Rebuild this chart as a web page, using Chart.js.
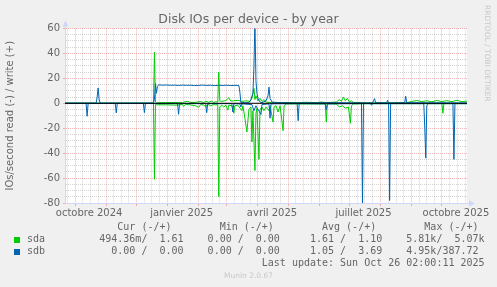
<!DOCTYPE html>
<html>
<head>
<meta charset="utf-8">
<script src="https://cdn.jsdelivr.net/npm/chart.js@4/dist/chart.umd.min.js"></script>
<style>
  body { margin: 0; background: #f0f0f0; }
  #wrap { position: relative; width: 497px; height: 287px; overflow: hidden; }
  #c { position: absolute; left: 0; top: 0; }
  .leg { position: absolute; margin: 0; font: 10px/12px "DejaVu Sans Mono", monospace; color: #666; white-space: pre; }
  .sq { position: absolute; width: 6px; height: 6px; }
  #rrd { position: absolute; left: 483px; top: 5px; font: 7.5px "DejaVu Sans", sans-serif; color: #c8c8c8; writing-mode: vertical-rl; white-space: nowrap; }
  #ver { position: absolute; left: 0; width: 497px; top: 271px; text-align: center; font: 7.5px "DejaVu Sans", sans-serif; color: #c8c8c8; }
</style>
</head>
<body>
<div id="wrap">
  <canvas id="c" width="497" height="287"></canvas>
  <div class="sq" style="left:14px;top:237px;background:#00cc00"></div>
  <div class="sq" style="left:14px;top:249px;background:#0066b3"></div>
  <pre class="leg" id="legend" style="left:27px;top:221px"></pre>
  <div id="rrd">RRDTOOL / TOBI OETIKER</div>
  <div id="ver">Munin 2.0.67</div>
</div>
<script>
// time range: 400 days ending at last update
var startDay = Date.UTC(2024, 8, 21);
var spanDays = 400;

// [day since start, IOs/s]  -- reads are plotted below zero
var sdaWrite = [[0,0.1],[88,0.1],[89,41],[90,1],[91,0.4],[100,0.5],[110,0.6],[117,0.4],[118,1],[122,1.5],[125,0.6],[130,0.8],[135,1.5],[138,0.5],[140,1.6],[143,0.8],[146,1.8],[148,0.6],[150,1.2],[152,1],[153,25],[154,2],[156,1.5],[160,2.2],[163,4.5],[165,1.8],[168,2],[172,2.4],[176,1.5],[180,2],[184,1.5],[186,4],[188,12],[189,3],[190,6],[192,2],[194,4],[196,1.5],[198,3],[200,1],[205,0.5],[210,0.8],[215,0.5],[220,0.7],[230,0.5],[240,0.8],[250,0.5],[255,1],[260,0.5],[270,1],[273,3],[275,1.5],[277,5],[279,2],[281,4],[283,1],[285,2],[287,0.5],[300,0.3],[340,0.4],[345,1.5],[350,2.2],[355,1.4],[360,2],[365,1.2],[370,2.2],[375,1.4],[380,2.1],[385,1.3],[390,2.4],[395,1.2],[400,1.8]];
var sdaRead = [[0,0.1],[88,0.1],[89,61],[90,1],[91,1.2],[100,1.2],[110,1.5],[117,1],[118,2.5],[120,1],[125,1.3],[130,2],[133,3.2],[135,1],[138,1.5],[140,2.8],[142,0.8],[145,2],[148,1],[150,1.4],[152,1],[153,75],[154,3],[156,1.5],[158,3],[160,1.5],[162,5.5],[163,1.5],[166,2],[168,8],[169,2],[172,1.5],[176,6],[177,2],[179,12],[181,23],[183,5],[185,3],[186,31],[187,6],[189,54],[190,8],[191,4],[193,45],[194,5],[196,3],[198,6],[200,3],[203,6],[204,2],[207,15],[208,3],[210,2],[212,7],[214,2],[217,22],[218,2],[220,0.5],[259,0.5],[260,15],[261,0.5],[270,0.5],[273,3],[276,2],[279,4],[282,3],[284,16],[285,2],[287,0.5],[300,0.3],[375,0.3],[376,8],[377,0.3],[400,0.3]];
var sdbWrite = [[0,0.2],[31,0.2],[32,5],[33,12.3],[34,3],[35,0.2],[88,0.2],[89,3],[90,15.7],[91,8],[92,13.5],[93,14.8],[97,14.5],[101,14.7],[105,14.4],[109,14.6],[113,14.3],[117,14.6],[121,14.4],[125,14.5],[129,14.2],[133,14.4],[137,14.6],[141,14.3],[145,14.5],[149,14.2],[153,14.4],[157,14.3],[161,14.5],[165,14.2],[169,14.4],[173,14.3],[174,9],[175,0.5],[183,0.5],[185,3],[187,8],[188,30],[189,66],[190,18],[191,8],[192,4],[194,1],[196,0.5],[200,2],[202,6],[203,13],[204,4],[206,1],[210,0.5],[230,0.3],[260,0.5],[306,0.3],[307,2],[308,3.7],[309,0.5],[320,0.3],[321,2.4],[322,0.3],[338,0.5],[339,5.6],[340,0.5],[400,0.3]];
var sdbRead = [[0,0.2],[21,0.2],[22,10.4],[23,0.2],[50,0.2],[51,7.7],[52,0.2],[78,0.2],[79,7.5],[80,0.2],[112,0.3],[113,8.8],[114,0.3],[140,0.3],[141,7.5],[142,0.3],[166,0.3],[167,7],[168,0.3],[174,0.5],[175,3],[176,0.5],[186,1],[188,6],[190,2],[195,9],[196,1],[203,0.5],[204,12],[205,0.5],[231,0.3],[232,14],[233,0.3],[259,0.5],[260,5],[261,0.5],[295,0.3],[296,82],[297,0.3],[304,0.3],[305,1.6],[306,0.3],[322,0.3],[323,78],[324,0.3],[357,0.3],[358,20],[359,44],[360,2],[361,0.3],[386,0.3],[387,45],[388,0.3],[400,0.3]];

// axis labels (year, month index, text)
var monthLabels = [[2024, 9, 'octobre 2024'], [2025, 0, 'janvier 2025'], [2025, 3, 'avril 2025'], [2025, 6, 'juillet 2025'], [2025, 9, 'octobre 2025']];
var yMin = -80, yMax = 60;

var legendLines = [
  '               Cur (-/+)        Min (-/+)        Avg (-/+)        Max (-/+)',
  'sda         494.36m/  1.61    0.00 /  0.00     1.61 /  1.10    5.81k/  5.07k',
  'sdb           0.00 /  0.00    0.00 /  0.00     1.05 /  3.69    4.95k/387.72',
  '                                       Last update: Sun Oct 26 02:00:11 2025'
];
document.getElementById('legend').textContent = legendLines.join('\n');

function dayOf(y, m, d) { return (Date.UTC(y, m, d) - startDay) / 864e5; }

// x ticks: month starts (red), quarter-month minor lines (grey), mid-month labels
var xTicks = [];
for (var y = 2024, m = 8; y < 2026; ) {
  var s = dayOf(y, m, 1);
  var ny = m === 11 ? y + 1 : y, nm = (m + 1) % 12;
  var e = dayOf(ny, nm, 1);
  if (s >= 0 && s <= spanDays) xTicks.push({value: s, kind: 'major'});
  for (var k = 1; k < 4; k++) {
    var v = s + (e - s) * k / 4;
    if (v > 0 && v < spanDays) xTicks.push({value: v, kind: 'minor'});
  }
  y = ny; m = nm;
  if (s > spanDays) break;
}
monthLabels.forEach(function (l) {
  xTicks.push({value: dayOf(l[0], l[1], 15), kind: 'label', label: l[2]});
});
xTicks.sort(function (a, b) { return a.value - b.value; });

function pts(arr, sign) { return arr.map(function (p) { return {x: p[0], y: sign * p[1]}; }); }

var MAJOR = 'rgba(224,80,80,0.42)', MINOR = 'rgba(143,143,143,0.38)', NONE = 'rgba(0,0,0,0)';
var AXIS = '#cfd6f8';

var munin = {
  id: 'munin',
  beforeDraw: function (chart) {
    var a = chart.chartArea, ctx = chart.ctx;
    ctx.save();
    ctx.fillStyle = '#ffffff';
    ctx.fillRect(a.left, a.top, a.right - a.left, a.bottom - a.top);
    ctx.restore();
  },
  afterDraw: function (chart) {
    var a = chart.chartArea, ctx = chart.ctx;
    ctx.save();
    ctx.strokeStyle = AXIS; ctx.fillStyle = AXIS; ctx.lineWidth = 1;
    ctx.beginPath();
    ctx.moveTo(a.left + 0.5, a.top); ctx.lineTo(a.left + 0.5, a.top - 3);
    ctx.moveTo(a.right, a.bottom + 0.5); ctx.lineTo(a.right + 3, a.bottom + 0.5);
    ctx.stroke();
    ctx.beginPath();
    ctx.moveTo(a.left - 2.5, a.top - 2); ctx.lineTo(a.left + 3.5, a.top - 2); ctx.lineTo(a.left + 0.5, a.top - 8);
    ctx.closePath(); ctx.fill();
    ctx.beginPath();
    ctx.moveTo(a.right + 2, a.bottom - 2.5); ctx.lineTo(a.right + 2, a.bottom + 3.5); ctx.lineTo(a.right + 8, a.bottom + 0.5);
    ctx.closePath(); ctx.fill();
    ctx.restore();
  }
};

function line(data, color, order) {
  return {data: data, borderColor: color, borderWidth: 1, pointRadius: 0, tension: 0, fill: false, order: order};
}

new Chart(document.getElementById('c'), {
  type: 'line',
  data: {
    datasets: [
      line([{x: 0, y: 0}, {x: spanDays, y: 0}], '#000000', 0),
      line(pts(sdbWrite, 1), '#0066b3', 1),
      line(pts(sdbRead, -1), '#0066b3', 2),
      line(pts(sdaWrite, 1), '#00cc00', 3),
      line(pts(sdaRead, -1), '#00cc00', 4)
    ]
  },
  options: {
    responsive: false,
    animation: false,
    devicePixelRatio: 1,
    layout: {padding: 0},
    plugins: {
      legend: {display: false},
      tooltip: {enabled: false},
      title: {
        display: true,
        text: 'Disk IOs per device - by year',
        color: '#666',
        font: {family: 'DejaVu Sans', size: 12.5, weight: 'normal'},
        padding: {top: 12, bottom: 1.5}
      }
    },
    scales: {
      x: {
        type: 'linear',
        min: 0,
        max: spanDays,
        afterBuildTicks: function (scale) {
          scale.ticks = xTicks.map(function (t) { return {value: t.value}; });
        },
        afterFit: function (scale) { scale.height = 84; },
        ticks: {
          autoSkip: false,
          maxRotation: 0,
          padding: 1,
          color: '#666',
          font: {family: 'DejaVu Sans', size: 10},
          callback: function (v, i) { return xTicks[i].label || ''; }
        },
        grid: {
          color: function (c) { var t = xTicks[c.index]; return !t ? NONE : t.kind === 'major' ? MAJOR : t.kind === 'minor' ? MINOR : NONE; },
          lineWidth: function (c) { var t = xTicks[c.index]; return t && t.kind !== 'label' ? 1 : 0; },
          tickColor: function (c) { var t = xTicks[c.index]; return t && t.kind === 'major' ? MAJOR : NONE; },
          tickLength: 3
        },
        border: {display: true, color: AXIS, width: 1, dash: [1, 1]}
      },
      y: {
        min: yMin,
        max: yMax,
        afterFit: function (scale) { scale.width = 65; },
        ticks: {
          stepSize: 5,
          autoSkip: false,
          padding: 3,
          color: '#666',
          font: {family: 'DejaVu Sans', size: 10},
          callback: function (v) { return v % 20 === 0 ? String(v) : ''; }
        },
        grid: {
          color: function (c) { return c.tick && c.tick.value % 20 === 0 ? MAJOR : MINOR; },
          tickColor: function (c) { return c.tick && c.tick.value % 20 === 0 ? MAJOR : NONE; },
          tickLength: 2
        },
        border: {display: true, color: AXIS, width: 1, dash: [1, 1]},
        title: {
          display: true,
          text: 'IOs/second read (-) / write (+)',
          color: '#666',
          font: {family: 'DejaVu Sans', size: 10},
          padding: {top: 4, bottom: 0}
        }
      },
      // empty right gutter so the title stays centred on the whole image
      gutter: {
        type: 'linear',
        position: 'right',
        display: true,
        min: yMin,
        max: yMax,
        afterFit: function (scale) { scale.width = 30; },
        ticks: {display: false},
        grid: {display: false, drawOnChartArea: false},
        border: {display: false}
      }
    }
  },
  plugins: [munin]
});
</script>
</body>
</html>
